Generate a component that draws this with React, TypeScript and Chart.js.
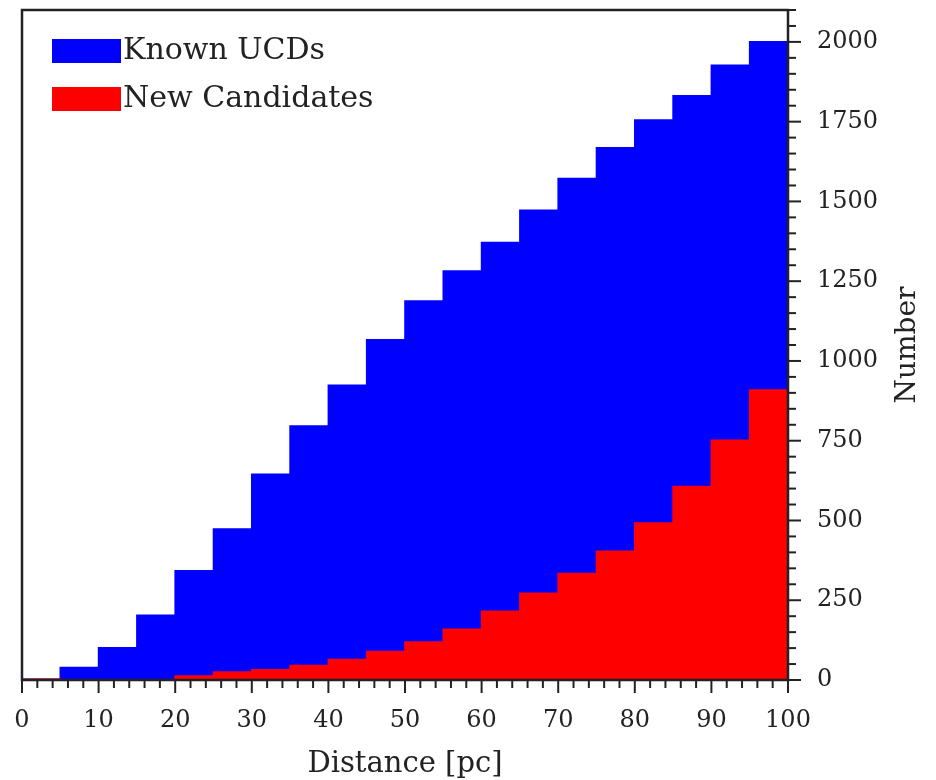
import React, { useEffect, useRef } from 'react';
import { Chart, registerables } from 'chart.js';

Chart.register(...registerables);

// Cumulative counts per 5 pc distance bin (bin start values in pc)
const binStarts = [0, 5, 10, 15, 20, 25, 30, 35, 40, 45, 50, 55, 60, 65, 70, 75, 80, 85, 90, 95];
const binWidth = 5;
const knownUCDs = [2, 39, 101, 203, 342, 473, 645, 796, 924, 1066, 1188, 1282, 1371, 1472, 1572, 1668, 1755, 1831, 1927, 2000];
const newCandidates = [2, 0, 0, 0, 12, 25, 32, 45, 64, 89, 119, 159, 215, 272, 334, 403, 492, 606, 751, 909];

const seriesLabels = ['Known UCDs', 'New Candidates'];
const seriesColors = ['#0000ff', '#ff0000'];

const xRange = [0, 100];
const xMajorStep = 10;
const xMinorStep = 2;
const yRange = [0, 2100];
const yMajorStep = 250;
const yMinorStep = 50;

const xTitle = 'Distance [pc]';
const yTitle = 'Number';

const FONT = "'DejaVu Serif', serif";
const INK = '#222222';

const zeroPadding = (scale: any) => {
  scale.paddingTop = 0;
  scale.paddingBottom = 0;
  scale.paddingLeft = 0;
  scale.paddingRight = 0;
};

const frameAndTicks = {
  id: 'frameAndTicks',
  afterDraw(chart: any) {
    const { ctx, chartArea, scales } = chart;
    const { left, right, top, bottom } = chartArea;
    const xs = scales.x;
    const ys = scales.y;
    ctx.save();

    // minor / major tick marks, pointing outward
    ctx.strokeStyle = INK;
    ctx.lineWidth = 2;
    for (let v = xRange[0]; v <= xRange[1] + 1e-9; v += xMinorStep) {
      const px = xs.getPixelForValue(v);
      const len = v % xMajorStep === 0 ? 13 : 8;
      ctx.beginPath();
      ctx.moveTo(px, bottom);
      ctx.lineTo(px, bottom + len);
      ctx.stroke();
    }
    for (let v = yRange[0]; v <= yRange[1] + 1e-9; v += yMinorStep) {
      const py = ys.getPixelForValue(v);
      const len = v % yMajorStep === 0 ? 13 : 8;
      ctx.beginPath();
      ctx.moveTo(right, py);
      ctx.lineTo(right + len, py);
      ctx.stroke();
    }

    // axes frame
    ctx.lineWidth = 2.5;
    ctx.strokeRect(left, top, right - left, bottom - top);

    // legend inside the plot, upper left
    ctx.font = `30px ${FONT}`;
    ctx.textBaseline = 'middle';
    ctx.textAlign = 'left';
    chart.data.datasets.forEach((ds: any, i: number) => {
      const y0 = top + 29 + i * 48;
      ctx.fillStyle = ds.backgroundColor;
      ctx.fillRect(left + 30, y0, 69, 24);
      ctx.fillStyle = INK;
      ctx.fillText(ds.label, left + 101, y0 + 12);
    });

    // right-hand axis title, reading upward
    ctx.save();
    ctx.translate(908, (top + bottom) / 2);
    ctx.rotate(-Math.PI / 2);
    ctx.textAlign = 'center';
    ctx.textBaseline = 'middle';
    ctx.font = `28px ${FONT}`;
    ctx.fillStyle = INK;
    ctx.fillText(yTitle, 0, 0);
    ctx.restore();

    ctx.restore();
  },
};

export default function App() {
  const canvasRef = useRef<HTMLCanvasElement | null>(null);

  useEffect(() => {
    const canvas = canvasRef.current;
    if (!canvas) return;

    const toPoints = (vals: number[]) =>
      binStarts.map((s, i) => ({ x: s + binWidth / 2, y: vals[i] }));

    const barStyle = {
      borderWidth: 0,
      barPercentage: 1,
      categoryPercentage: 1,
      grouped: false,
      inflateAmount: 0.8,
    };

    const chart = new Chart(canvas, {
      type: 'bar',
      data: {
        datasets: [
          {
            label: seriesLabels[0],
            data: toPoints(knownUCDs),
            backgroundColor: seriesColors[0],
            order: 2,
            ...barStyle,
          },
          {
            label: seriesLabels[1],
            data: toPoints(newCandidates),
            backgroundColor: seriesColors[1],
            order: 1,
            ...barStyle,
          },
        ],
      },
      options: {
        responsive: false,
        animation: false,
        events: [],
        layout: { padding: { left: 22, top: 10, right: 0, bottom: 0 } },
        plugins: {
          legend: { display: false },
          tooltip: { enabled: false },
        },
        scales: {
          x: {
            type: 'linear',
            min: xRange[0],
            max: xRange[1],
            offset: false,
            grid: { display: false, drawTicks: false },
            border: { display: false },
            ticks: {
              stepSize: xMajorStep,
              autoSkip: false,
              maxRotation: 0,
              color: INK,
              padding: 26,
              font: { family: FONT, size: 24 },
            },
            title: {
              display: true,
              text: xTitle,
              color: INK,
              font: { family: FONT, size: 29 },
              padding: { top: 0, bottom: -2 },
            },
            afterFit: (scale: any) => {
              scale.height = 100;
              zeroPadding(scale);
            },
          },
          y: {
            type: 'linear',
            position: 'right',
            min: yRange[0],
            max: yRange[1],
            grid: { display: false, drawTicks: false },
            border: { display: false },
            ticks: {
              stepSize: yMajorStep,
              autoSkip: false,
              color: INK,
              padding: 29,
              font: { family: FONT, size: 24 },
              callback: (v: any) => (Number(v) <= 2000 ? String(v) : ''),
            },
            afterFit: (scale: any) => {
              scale.width = 148;
              zeroPadding(scale);
            },
          },
        },
      },
      plugins: [frameAndTicks],
    });

    return () => chart.destroy();
  }, []);

  return (
    <div style={{ position: 'absolute', left: 0, top: 0, width: 936, height: 780, background: '#fff' }}>
      <canvas ref={canvasRef} width={936} height={780} style={{ width: 936, height: 780, display: 'block' }} />
    </div>
  );
}
